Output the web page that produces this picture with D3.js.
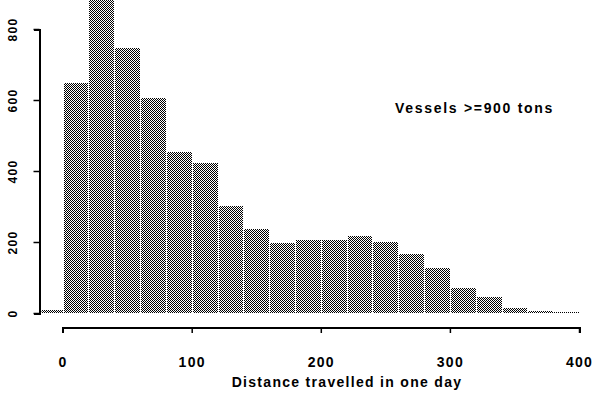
<!DOCTYPE html>
<html>
<head>
<meta charset="utf-8">
<script src="https://cdn.jsdelivr.net/npm/d3@7"></script>
<style>
  html, body { margin: 0; padding: 0; background: #fff; }
  svg { display: block; }
  text { font-family: "Liberation Sans", Arial, sans-serif; font-weight: bold; fill: #000; }
</style>
</head>
<body>
<svg id="chart" width="599" height="395"></svg>
<script>
// ---- data ----
const binStarts = [-20, 0, 20, 40, 60, 80, 100, 120, 140, 160, 180, 200, 220, 240, 260, 280, 300, 320, 340, 360, 380];
const binWidth = 20;
const counts = [8, 649, 882, 747, 606, 453, 423, 301, 238, 198, 206, 206, 217, 201, 166, 127, 70, 46, 15, 5, 4];
const xTicks = [0, 100, 200, 300, 400];
const yTicks = [0, 200, 400, 600, 800];
const xTitle = "Distance travelled in one day";
const annotation = "Vessels >=900 tons";

// ---- layout ----
const svg = d3.select("#chart");
const x = d3.scaleLinear().domain([0, 400]).range([62.6, 579]);
const y = d3.scaleLinear().domain([0, 800]).range([313, 29]);
const yAxisX = 39.5;
const xAxisY = 327;

const defs = svg.append("defs");
const pat = defs.append("pattern").attr("id", "dither")
  .attr("width", 2).attr("height", 2).attr("patternUnits", "userSpaceOnUse");
pat.append("rect").attr("width", 2).attr("height", 2).attr("fill", "#fff");
pat.append("rect").attr("x", 0).attr("y", 0).attr("width", 1).attr("height", 1).attr("fill", "#000");
pat.append("rect").attr("x", 1).attr("y", 1).attr("width", 1).attr("height", 1).attr("fill", "#000");

defs.append("clipPath").attr("id", "plotclip")
  .append("rect").attr("x", yAxisX + 2).attr("y", 0).attr("width", 599).attr("height", 395);

const data = binStarts.map((b, i) => ({ x0: b, x1: b + binWidth, n: counts[i] }));

svg.append("g").attr("clip-path", "url(#plotclip)")
  .selectAll("rect").data(data).join("rect")
  .attr("x", d => Math.round(x(d.x0)) + 1)
  .attr("width", d => Math.round(x(d.x1)) - Math.round(x(d.x0)) - 1)
  .attr("y", d => Math.round(y(d.n)))
  .attr("height", d => Math.round(y(0)) - Math.round(y(d.n)))
  .attr("fill", "url(#dither)")
  .attr("shape-rendering", "crispEdges");

// x axis
const gx = svg.append("g").attr("transform", `translate(0,${xAxisY})`)
  .call(d3.axisBottom(x).tickValues(xTicks).tickSize(6).tickSizeOuter(6).tickFormat(d3.format("d")));
gx.select(".domain").attr("stroke", "#000").attr("stroke-width", 2).attr("shape-rendering", "crispEdges");
gx.selectAll(".tick line").attr("stroke", "#000").attr("stroke-width", 1.5);
gx.selectAll(".tick text")
  .attr("y", 40).attr("dy", 0)
  .style("font-size", "14px").style("letter-spacing", "1.3px")
  .style("font-family", "'Liberation Sans', Arial, sans-serif").style("font-weight", "bold");

// y axis
const gy = svg.append("g").attr("transform", `translate(${yAxisX},0)`)
  .call(d3.axisLeft(y).tickValues(yTicks).tickSize(6).tickSizeOuter(6).tickFormat(d3.format("d")));
gy.select(".domain").attr("stroke", "#000").attr("stroke-width", 2).attr("shape-rendering", "crispEdges");
gy.selectAll(".tick line").attr("stroke", "#000").attr("stroke-width", 1.5);
gy.selectAll(".tick text")
  .attr("transform", "rotate(-90)")
  .attr("x", 0).attr("y", -22.5).attr("dy", 0)
  .attr("text-anchor", "middle")
  .style("font-size", "12px").style("letter-spacing", "1.3px")
  .style("font-family", "'Liberation Sans', Arial, sans-serif").style("font-weight", "bold");

// titles
svg.append("text").attr("x", 347).attr("y", 387).attr("text-anchor", "middle")
  .style("font-size", "14px").style("letter-spacing", "1.3px").text(xTitle);
svg.append("text").attr("x", 395).attr("y", 113)
  .style("font-size", "14px").style("letter-spacing", "1.7px").text(annotation);
</script>
</body>
</html>
